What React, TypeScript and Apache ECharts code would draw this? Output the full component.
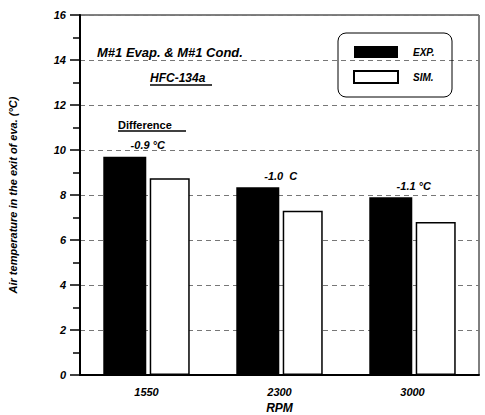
import React, { useEffect, useRef } from "react";
import * as echarts from "echarts";

const categories = ["1550", "2300", "3000"];
const expValues = [9.7, 8.35, 7.9];
const simValues = [8.75, 7.3, 6.8];
const diffLabels = ["-0.9 °C", "-1.0  C", "-1.1 °C"];

const FONT = "Liberation Sans, Arial, sans-serif";

export default function App() {
  const ref = useRef<HTMLDivElement>(null);
  useEffect(() => {
    if (!ref.current) return;
    document.body.style.margin = "0";
    const chart = echarts.init(ref.current, undefined, { renderer: "svg" });
    const txt = { fontFamily: FONT, fontWeight: "bold", fontStyle: "italic", color: "#000" };
    chart.setOption({
      animation: false,
      backgroundColor: "#fff",
      grid: { left: 80, right: 6, top: 15, bottom: 40, show: true, borderColor: "#000", borderWidth: 1, backgroundColor: "transparent", outerBoundsMode: "none", containLabel: false },
      legend: {
        orient: "vertical",
        left: 353,
        top: 46,
        padding: 0,
        itemWidth: 44,
        itemHeight: 12,
        itemGap: 12,
        icon: "rect",
        data: ["EXP.", "SIM."],
        textStyle: { ...txt, fontSize: 10, padding: [0, 0, 0, 10] },
      },
      graphic: [
        { type: "rect", shape: { x: 338, y: 33, width: 114, height: 64, r: 8 }, style: { fill: "none", stroke: "#000", lineWidth: 1 }, z: 10 },
        { type: "text", x: 97, y: 52, style: { text: "M#1 Evap. & M#1 Cond.", font: `italic bold 13px ${FONT}`, fill: "#000", textVerticalAlign: "middle" }, z: 10 },
        { type: "text", x: 150, y: 78, style: { text: "HFC-134a", font: `italic bold 12px ${FONT}`, fill: "#000", textVerticalAlign: "middle" }, z: 10 },
        { type: "line", shape: { x1: 150, y1: 85, x2: 212, y2: 85 }, style: { stroke: "#000", lineWidth: 1.5 }, z: 10 },
        { type: "text", x: 118, y: 125, style: { text: "Difference", font: `bold 11px ${FONT}`, fill: "#000", textVerticalAlign: "middle" }, z: 10 },
        { type: "line", shape: { x1: 118, y1: 131, x2: 186, y2: 131 }, style: { stroke: "#000", lineWidth: 1.5 }, z: 10 },
      ],
      xAxis: {
        type: "category",
        data: categories,
        name: "RPM",
        nameLocation: "middle",
        nameGap: 26,
        nameTextStyle: { ...txt, fontSize: 12 },
        axisLine: { lineStyle: { color: "#000", width: 2 } },
        axisTick: { show: false },
        axisLabel: { ...txt, fontSize: 11, margin: 11 },
      },
      yAxis: {
        type: "value",
        min: 0,
        max: 16,
        interval: 2,
        name: "Air temperature in the exit of eva. (°C)",
        nameLocation: "middle",
        nameRotate: 90,
        nameGap: 62,
        nameTextStyle: { ...txt, fontSize: 11 },
        axisLine: { show: true, lineStyle: { color: "#000", width: 2 } },
        axisTick: { show: true, length: 10, lineStyle: { color: "#000", width: 1.5 } },
        minorTick: { show: true, splitNumber: 2, length: 7, lineStyle: { color: "#000", width: 1.5 } },
        axisLabel: { ...txt, fontSize: 11, margin: 14 },
        splitLine: { show: true, lineStyle: { color: "#777", type: [5, 4], width: 1 } },
      },
      series: [
        {
          name: "EXP.",
          type: "bar",
          data: expValues,
          barWidth: 43,
          barGap: "8%",
          itemStyle: { color: "#000" },
          label: {
            show: true,
            position: "top",
            distance: 6,
            offset: [23, 0],
            formatter: (p: any) => diffLabels[p.dataIndex],
            ...txt,
            fontSize: 11,
          },
        },
        {
          name: "SIM.",
          type: "bar",
          data: simValues,
          barWidth: 40,
          itemStyle: { color: "#fff", borderColor: "#000", borderWidth: 1.5 },
        },
      ],
    });
    return () => chart.dispose();
  }, []);
  return <div ref={ref} style={{ position: "fixed", left: 0, top: 0, width: 485, height: 415 }} />;
}
